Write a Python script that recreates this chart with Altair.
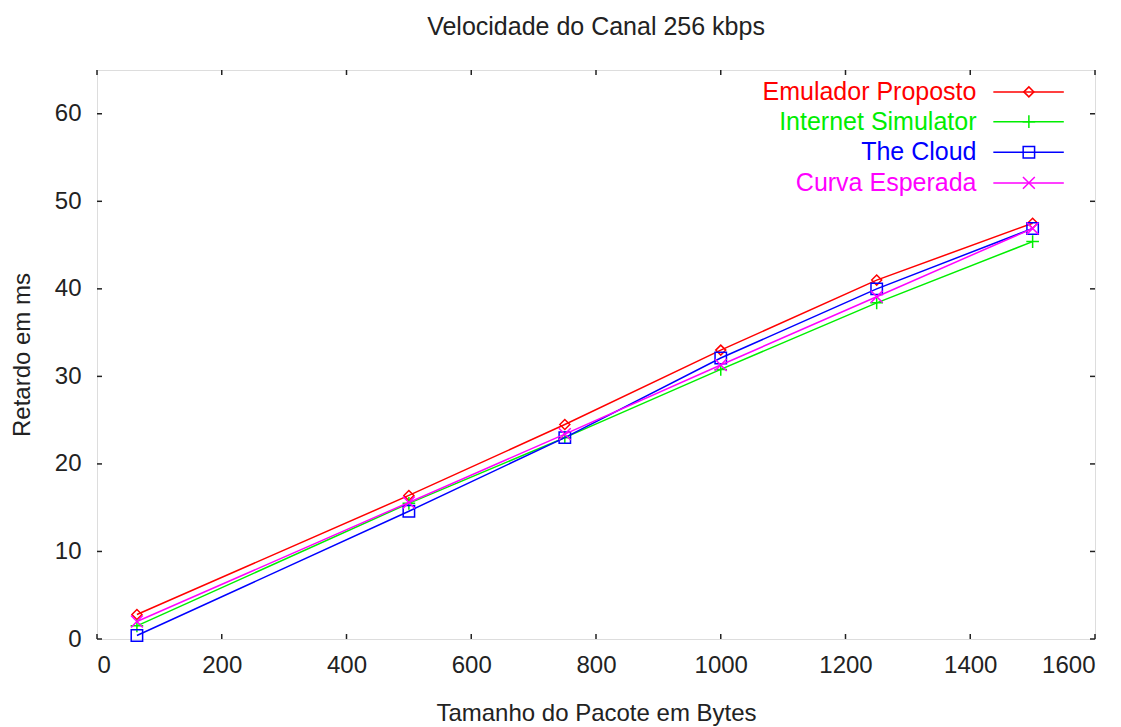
import altair as alt
import pandas as pd

# Packet sizes (bytes) and measured delays (ms) at 256 kbps
sizes = [64, 500, 750, 1000, 1250, 1500]
emulador = [2.8, 16.4, 24.5, 33.0, 41.0, 47.5]
internet_sim = [1.5, 15.5, 23.0, 30.8, 38.4, 45.4]
the_cloud = [0.4, 14.6, 23.0, 32.1, 40.0, 46.9]
esperada = [2.0, 15.6, 23.4, 31.3, 39.1, 46.9]

series_names = ["Emulador Proposto", "Internet Simulator", "The Cloud", "Curva Esperada"]
series_values = [emulador, internet_sim, the_cloud, esperada]
series_colors = ["#ff0000", "#00ee00", "#0000ff", "#ff00ff"]

x_ticks = [0, 200, 400, 600, 800, 1000, 1200, 1400, 1600]
y_ticks = [0, 10, 20, 30, 40, 50, 60]

# Legend rows: label anchor, sample line span and marker position (data units)
legend_y = [62.5, 59.1, 55.6, 52.1]
legend_text_x = 1410
legend_line_x = [1437, 1550]
legend_marker_x = 1494

PLUS = "M-1,0L1,0M0,-1L0,1"
CROSS = "M-1,-1L1,1M-1,1L1,-1"
shapes = ["diamond", PLUS, "square", CROSS]
sizes_mark = [100, 160, 130, 140]

FONT = "Liberation Sans"
FS = 24
W, H = 998, 569

xs = alt.Scale(domain=[0, 1600], nice=False)
ys = alt.Scale(domain=[0, 65], nice=False)

x_axis = alt.Axis(values=x_ticks, format="d", domain=False, ticks=False, grid=False,
                  labelFontSize=FS, labelFont=FONT, labelColor="#222",
                  labelPadding=14, title="Tamanho do Pacote em Bytes",
                  titleFontSize=FS, titleFont=FONT, titleFontWeight="normal",
                  titleColor="#222", titlePadding=24)
y_axis = alt.Axis(values=y_ticks, format="d", domain=False, ticks=False, grid=False,
                  labelFontSize=FS, labelFont=FONT, labelColor="#222",
                  labelPadding=16, title="Retardo em ms",
                  titleFontSize=FS, titleFont=FONT, titleFontWeight="normal",
                  titleColor="#222", titlePadding=20)

layers = []

# invisible base carrying the axes
base_df = pd.DataFrame({"x": [0], "y": [0]})
layers.append(alt.Chart(base_df).mark_point(opacity=0).encode(
    x=alt.X("x:Q", scale=xs, axis=x_axis),
    y=alt.Y("y:Q", scale=ys, axis=y_axis)))

# inward ticks on all four sides
xt = pd.DataFrame({"t": x_ticks})
yt = pd.DataFrame({"t": y_ticks})
tick_style = dict(color="#222", strokeWidth=1.5)
layers.append(alt.Chart(xt).mark_rule(**tick_style).encode(
    x=alt.X("t:Q", scale=xs), y=alt.value(H), y2=alt.value(H - 5)))
layers.append(alt.Chart(xt).mark_rule(**tick_style).encode(
    x=alt.X("t:Q", scale=xs), y=alt.value(0), y2=alt.value(5)))
layers.append(alt.Chart(yt).mark_rule(**tick_style).encode(
    y=alt.Y("t:Q", scale=ys), x=alt.value(0), x2=alt.value(5)))
layers.append(alt.Chart(yt).mark_rule(**tick_style).encode(
    y=alt.Y("t:Q", scale=ys), x=alt.value(W), x2=alt.value(W - 5)))

for name, vals, col, shp, sz, ly in zip(series_names, series_values, series_colors,
                                        shapes, sizes_mark, legend_y):
    df = pd.DataFrame({"x": sizes, "y": vals})
    layers.append(alt.Chart(df).mark_line(color=col, strokeWidth=1.5).encode(
        x=alt.X("x:Q", scale=xs), y=alt.Y("y:Q", scale=ys)))
    layers.append(alt.Chart(df).mark_point(color=col, shape=shp, size=sz,
                                           filled=False, strokeWidth=1.5,
                                           opacity=1).encode(
        x=alt.X("x:Q", scale=xs), y=alt.Y("y:Q", scale=ys)))
    # legend entry
    ldf = pd.DataFrame({"x": [legend_line_x[0]], "x2": [legend_line_x[1]],
                        "y": [ly], "mx": [legend_marker_x], "tx": [legend_text_x],
                        "label": [name]})
    layers.append(alt.Chart(ldf).mark_rule(color=col, strokeWidth=1.5).encode(
        x=alt.X("x:Q", scale=xs), x2="x2:Q", y=alt.Y("y:Q", scale=ys)))
    layers.append(alt.Chart(ldf).mark_point(color=col, shape=shp, size=sz,
                                            filled=False, strokeWidth=1.5,
                                            opacity=1).encode(
        x=alt.X("mx:Q", scale=xs), y=alt.Y("y:Q", scale=ys)))
    layers.append(alt.Chart(ldf).mark_text(color=col, align="right",
                                           baseline="middle", font=FONT,
                                           fontSize=FS + 1).encode(
        x=alt.X("tx:Q", scale=xs), y=alt.Y("y:Q", scale=ys), text="label:N"))

chart = alt.layer(*layers).properties(
    width=W, height=H,
    title=alt.Title("Velocidade do Canal 256 kbps", fontSize=FS + 1, font=FONT,
                    fontWeight="normal", color="#222", anchor="middle",
                    offset=29),
    autosize=alt.AutoSizeParams(type="none"),
    padding={"left": 97, "top": 70, "right": 26, "bottom": 88},
).configure_view(stroke="#222", strokeWidth=2).configure(background="white")

chart.save("out.html", embed_options={"renderer": "svg", "actions": False})
